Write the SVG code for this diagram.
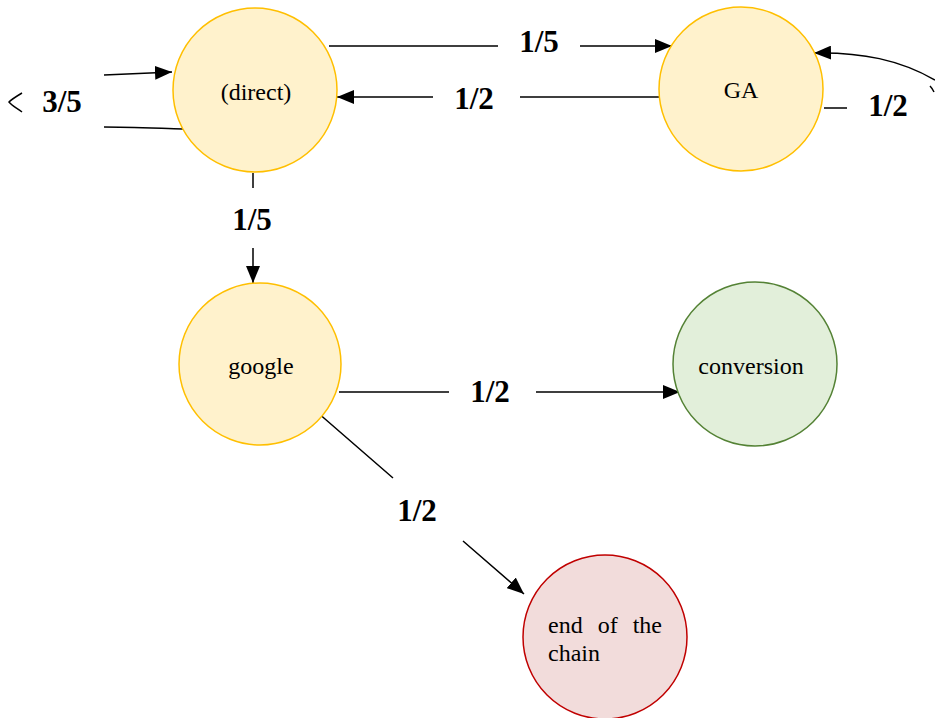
<svg xmlns="http://www.w3.org/2000/svg" width="935" height="718" viewBox="0 0 935 718">
<style>
.yel{fill:#fff2cc;stroke:#ffbf00;stroke-width:1.5}
.grn{fill:#e2efda;stroke:#548235;stroke-width:1.5}
.red{fill:#f2dcdb;stroke:#c00000;stroke-width:1.5}
.nt{font-family:"Liberation Serif","DejaVu Serif","Times New Roman",serif;font-size:24px;fill:#000;text-anchor:middle}
.el{font-family:"Liberation Serif","DejaVu Serif","Times New Roman",serif;font-size:31px;font-weight:bold;fill:#000;text-anchor:middle}
.ln{fill:none;stroke:#000;stroke-width:1.5}
</style>
<defs>
<marker id="ah" markerUnits="userSpaceOnUse" markerWidth="18" markerHeight="14" viewBox="0 0 18 14" refX="17" refY="7" orient="auto">
<path d="M0,0 L17,7 L0,14 z" fill="#000"/>
</marker>
</defs>
<g id="connectors">
<path class="ln" d="M329,46 L498,46 M580,46 L672,46" marker-end="url(#ah)"/>
<path class="ln" d="M664,97 L520,97 M433,97 L337,97" marker-end="url(#ah)"/>
<path class="ln" d="M183,129 C150,128 125,127 104,127 M22,112 C17,108 12,106 9,102 C12,99 17,96 22,93 M104,75 C130,74 150,73 172,72" marker-end="url(#ah)"/>
<path class="ln" d="M824,108 L847,108 M930,86 C932,88 933,90 934,92 M935,80 C900,60 862,52 814,53" marker-end="url(#ah)"/>
<path class="ln" d="M253,173 L253,188 M253,248 L253,283" marker-end="url(#ah)"/>
<path class="ln" d="M339,392 L449,392 M536,392 L680,392" marker-end="url(#ah)"/>
<path class="ln" d="M317,412 L393,478 M463,541 L524,594" marker-end="url(#ah)"/>
<text class="el" x="539" y="52">1/5</text>
<text class="el" x="474" y="109">1/2</text>
<text class="el" x="62" y="112">3/5</text>
<text class="el" x="888" y="116">1/2</text>
<text class="el" x="252" y="230">1/5</text>
<text class="el" x="490" y="402">1/2</text>
<text class="el" x="417" y="521">1/2</text>
</g>
<g id="node-direct">
<circle class="yel" cx="255" cy="90" r="82"/>
<text class="nt" x="256" y="100">(direct)</text>
</g>
<g id="node-ga">
<circle class="yel" cx="741" cy="89" r="82"/>
<text class="nt" x="741" y="98">GA</text>
</g>
<g id="node-google">
<circle class="yel" cx="260" cy="364" r="81"/>
<text class="nt" x="261" y="374">google</text>
</g>
<g id="node-conversion">
<circle class="grn" cx="755" cy="364" r="82"/>
<text class="nt" x="751" y="374">conversion</text>
</g>
<g id="node-end">
<circle class="red" cx="605" cy="637" r="82"/>
<text class="nt" x="548" y="633" style="text-anchor:start" word-spacing="9">end of the</text>
<text class="nt" x="548" y="661" style="text-anchor:start">chain</text>
</g>
</svg>
